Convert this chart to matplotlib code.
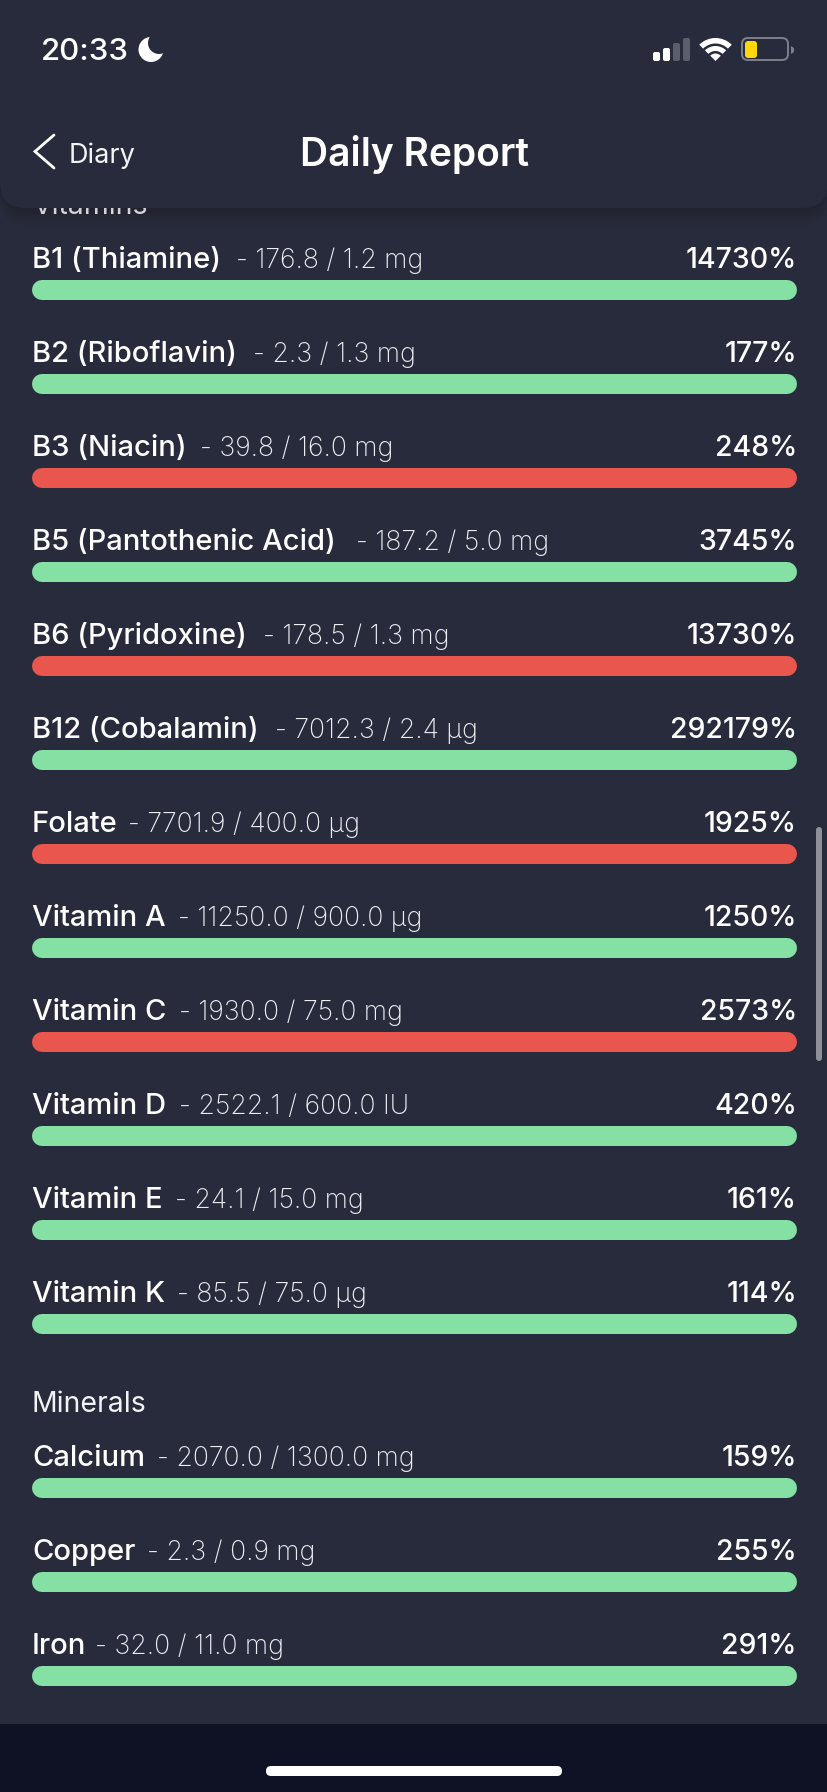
import matplotlib
matplotlib.use('Agg')
import matplotlib.pyplot as plt
from matplotlib.patches import Circle, FancyBboxPatch, Rectangle, Wedge, Polygon

# data
vitamin_names = ['B1 (Thiamine)', 'B2 (Riboflavin)', 'B3 (Niacin)', 'B5 (Pantothenic Acid)', 'B6 (Pyridoxine)',
                 'B12 (Cobalamin)', 'Folate', 'Vitamin A', 'Vitamin C', 'Vitamin D', 'Vitamin E', 'Vitamin K']
vitamin_amounts = [176.8, 2.3, 39.8, 187.2, 178.5, 7012.3, 7701.9, 11250.0, 1930.0, 2522.1, 24.1, 85.5]
vitamin_targets = [1.2, 1.3, 16.0, 5.0, 1.3, 2.4, 400.0, 900.0, 75.0, 600.0, 15.0, 75.0]
vitamin_units = ['mg', 'mg', 'mg', 'mg', 'mg', 'µg', 'µg', 'µg', 'mg', 'IU', 'mg', 'µg']
vitamin_percents = [14730, 177, 248, 3745, 13730, 292179, 1925, 1250, 2573, 420, 161, 114]
vitamin_over = [False, False, True, False, True, False, True, False, True, False, False, False]

mineral_names = ['Calcium', 'Copper', 'Iron']
mineral_amounts = [2070.0, 2.3, 32.0]
mineral_targets = [1300.0, 0.9, 11.0]
mineral_units = ['mg', 'mg', 'mg']
mineral_percents = [159, 255, 291]
mineral_over = [False, False, False]

BG = '#282b3c'
GREEN = '#85e0a3'
RED = '#e8564e'
WHITE = '#ffffff'
W, H = 828, 1792

plt.rcParams['font.family'] = ['Inter', 'DejaVu Sans']

fig = plt.figure(figsize=(W / 100, H / 100), dpi=100, facecolor=BG)

# page layer in pixel coordinates
ax = fig.add_axes([0, 0, 1, 1], zorder=0)
ax.set_xlim(0, W)
ax.set_ylim(H, 0)
ax.axis('off')

# bars, x axis runs 0-100 % of the track (round caps stick out by 10 px)
ax_bars = fig.add_axes([42 / W, 0, (787 - 42) / W, 1], zorder=1)
ax_bars.set_xlim(0, 100)
ax_bars.set_ylim(H, 0)
ax_bars.axis('off')

# header and status bar on top
ax_top = fig.add_axes([0, 0, 1, 1], zorder=2)
ax_top.set_xlim(0, W)
ax_top.set_ylim(H, 0)
ax_top.axis('off')
ax_top.patch.set_alpha(0)

renderer = fig.canvas.get_renderer()


def draw_row(top, name, amount, target, unit, percent, over):
    base = top - 12
    t = ax.text(32, base, name, color=WHITE, fontsize=21, fontweight='medium', va='baseline')
    name_w = t.get_window_extent(renderer).width
    x = 32 + name_w * 1.045 + 6.5
    ax.text(x, base, f'- {amount:.1f} / {target:.1f} {unit}', color='#eceef2', fontsize=19.2,
            fontweight='light', va='baseline')
    ax.text(797, base, f'{percent}%', color=WHITE, fontsize=20.5, fontweight='medium', ha='right', va='baseline')
    ax_bars.hlines(top + 10, 0, min(percent, 100), colors=RED if over else GREEN, linewidth=14.4,
                   capstyle='round', clip_on=False)


def draw_section(first_top, title, names, amounts, targets, units, percents, over):
    ax.text(32, first_top - 66, title, color='#f2f3f5', fontsize=20.5, fontweight='normal', va='baseline')
    for i, name in enumerate(names):
        draw_row(first_top + 94 * i, name, amounts[i], targets[i], units[i], percents[i], over[i])


draw_section(280, 'Vitamins', vitamin_names, vitamin_amounts, vitamin_targets, vitamin_units,
             vitamin_percents, vitamin_over)
draw_section(1478, 'Minerals', mineral_names, mineral_amounts, mineral_targets, mineral_units,
             mineral_percents, mineral_over)

# scrollbar
ax_top.add_patch(FancyBboxPatch((816 + 3, 827 + 3), 0, 234 - 6, boxstyle='round,pad=3,rounding_size=3',
                                fc='#8e9098', ec='none'))

# header panel with soft shadow
for i in range(8):
    ax_top.add_patch(FancyBboxPatch((0, -80), W, 288 + i * 2.5, boxstyle='round,pad=0,rounding_size=26',
                                    fc='#000000', ec='none', alpha=0.018))
ax_top.add_patch(FancyBboxPatch((0, -80), W, 288, boxstyle='round,pad=0,rounding_size=26', fc=BG, ec='none'))

# status bar
ax_top.text(41, 60, '20:33', color=WHITE, fontsize=22.5, fontweight='medium', va='baseline')
ax_top.add_patch(Circle((151, 49.5), 12.5, fc=WHITE, ec='none'))
ax_top.add_patch(Circle((159, 43), 11, fc=BG, ec='none'))

for x, top, col in [(653, 52, WHITE), (663, 48, WHITE), (673, 43, '#5b5e6b'), (683, 38, '#5b5e6b')]:
    ax_top.add_patch(FancyBboxPatch((x + 2, top + 2), 3, 61 - top - 4, boxstyle='round,pad=2,rounding_size=2',
                                    fc=col, ec='none'))

for r, wd in [(23, 5.5), (15, 5), (7.5, 7.5)]:
    ax_top.add_patch(Wedge((715.5, 61), r, 225, 315, width=wd, fc=WHITE, ec='none'))

ax_top.add_patch(FancyBboxPatch((742, 38), 46, 22, boxstyle='round,pad=0,rounding_size=6', fc='none',
                                ec='#7d7f8a', lw=1.4))
ax_top.add_patch(FancyBboxPatch((745, 41), 12, 17, boxstyle='round,pad=0,rounding_size=3', fc='#ffd60a', ec='none'))
ax_top.add_patch(Polygon([(791, 46), (794, 48), (794, 52), (791, 54)], closed=True, fc='#7d7f8a', ec='none'))

# navigation
ax_top.plot([54, 35, 54], [135, 151.5, 168], color=WHITE, lw=2.0, solid_capstyle='round', solid_joinstyle='miter')
ax_top.text(69, 163, 'Diary', color='#f2f3f5', fontsize=19.5, fontweight='normal', va='baseline')
ax_top.text(415, 166, 'Daily Report', color=WHITE, fontsize=28, fontweight='semibold', ha='center', va='baseline')

# home indicator
ax_top.add_patch(Rectangle((0, 1724), W, H - 1724, fc='#0f1224', ec='none'))
ax_top.add_patch(FancyBboxPatch((266, 1766), 296, 10, boxstyle='round,pad=0,rounding_size=5', fc=WHITE, ec='none'))

fig.savefig('out.png', dpi=100, facecolor=BG)
